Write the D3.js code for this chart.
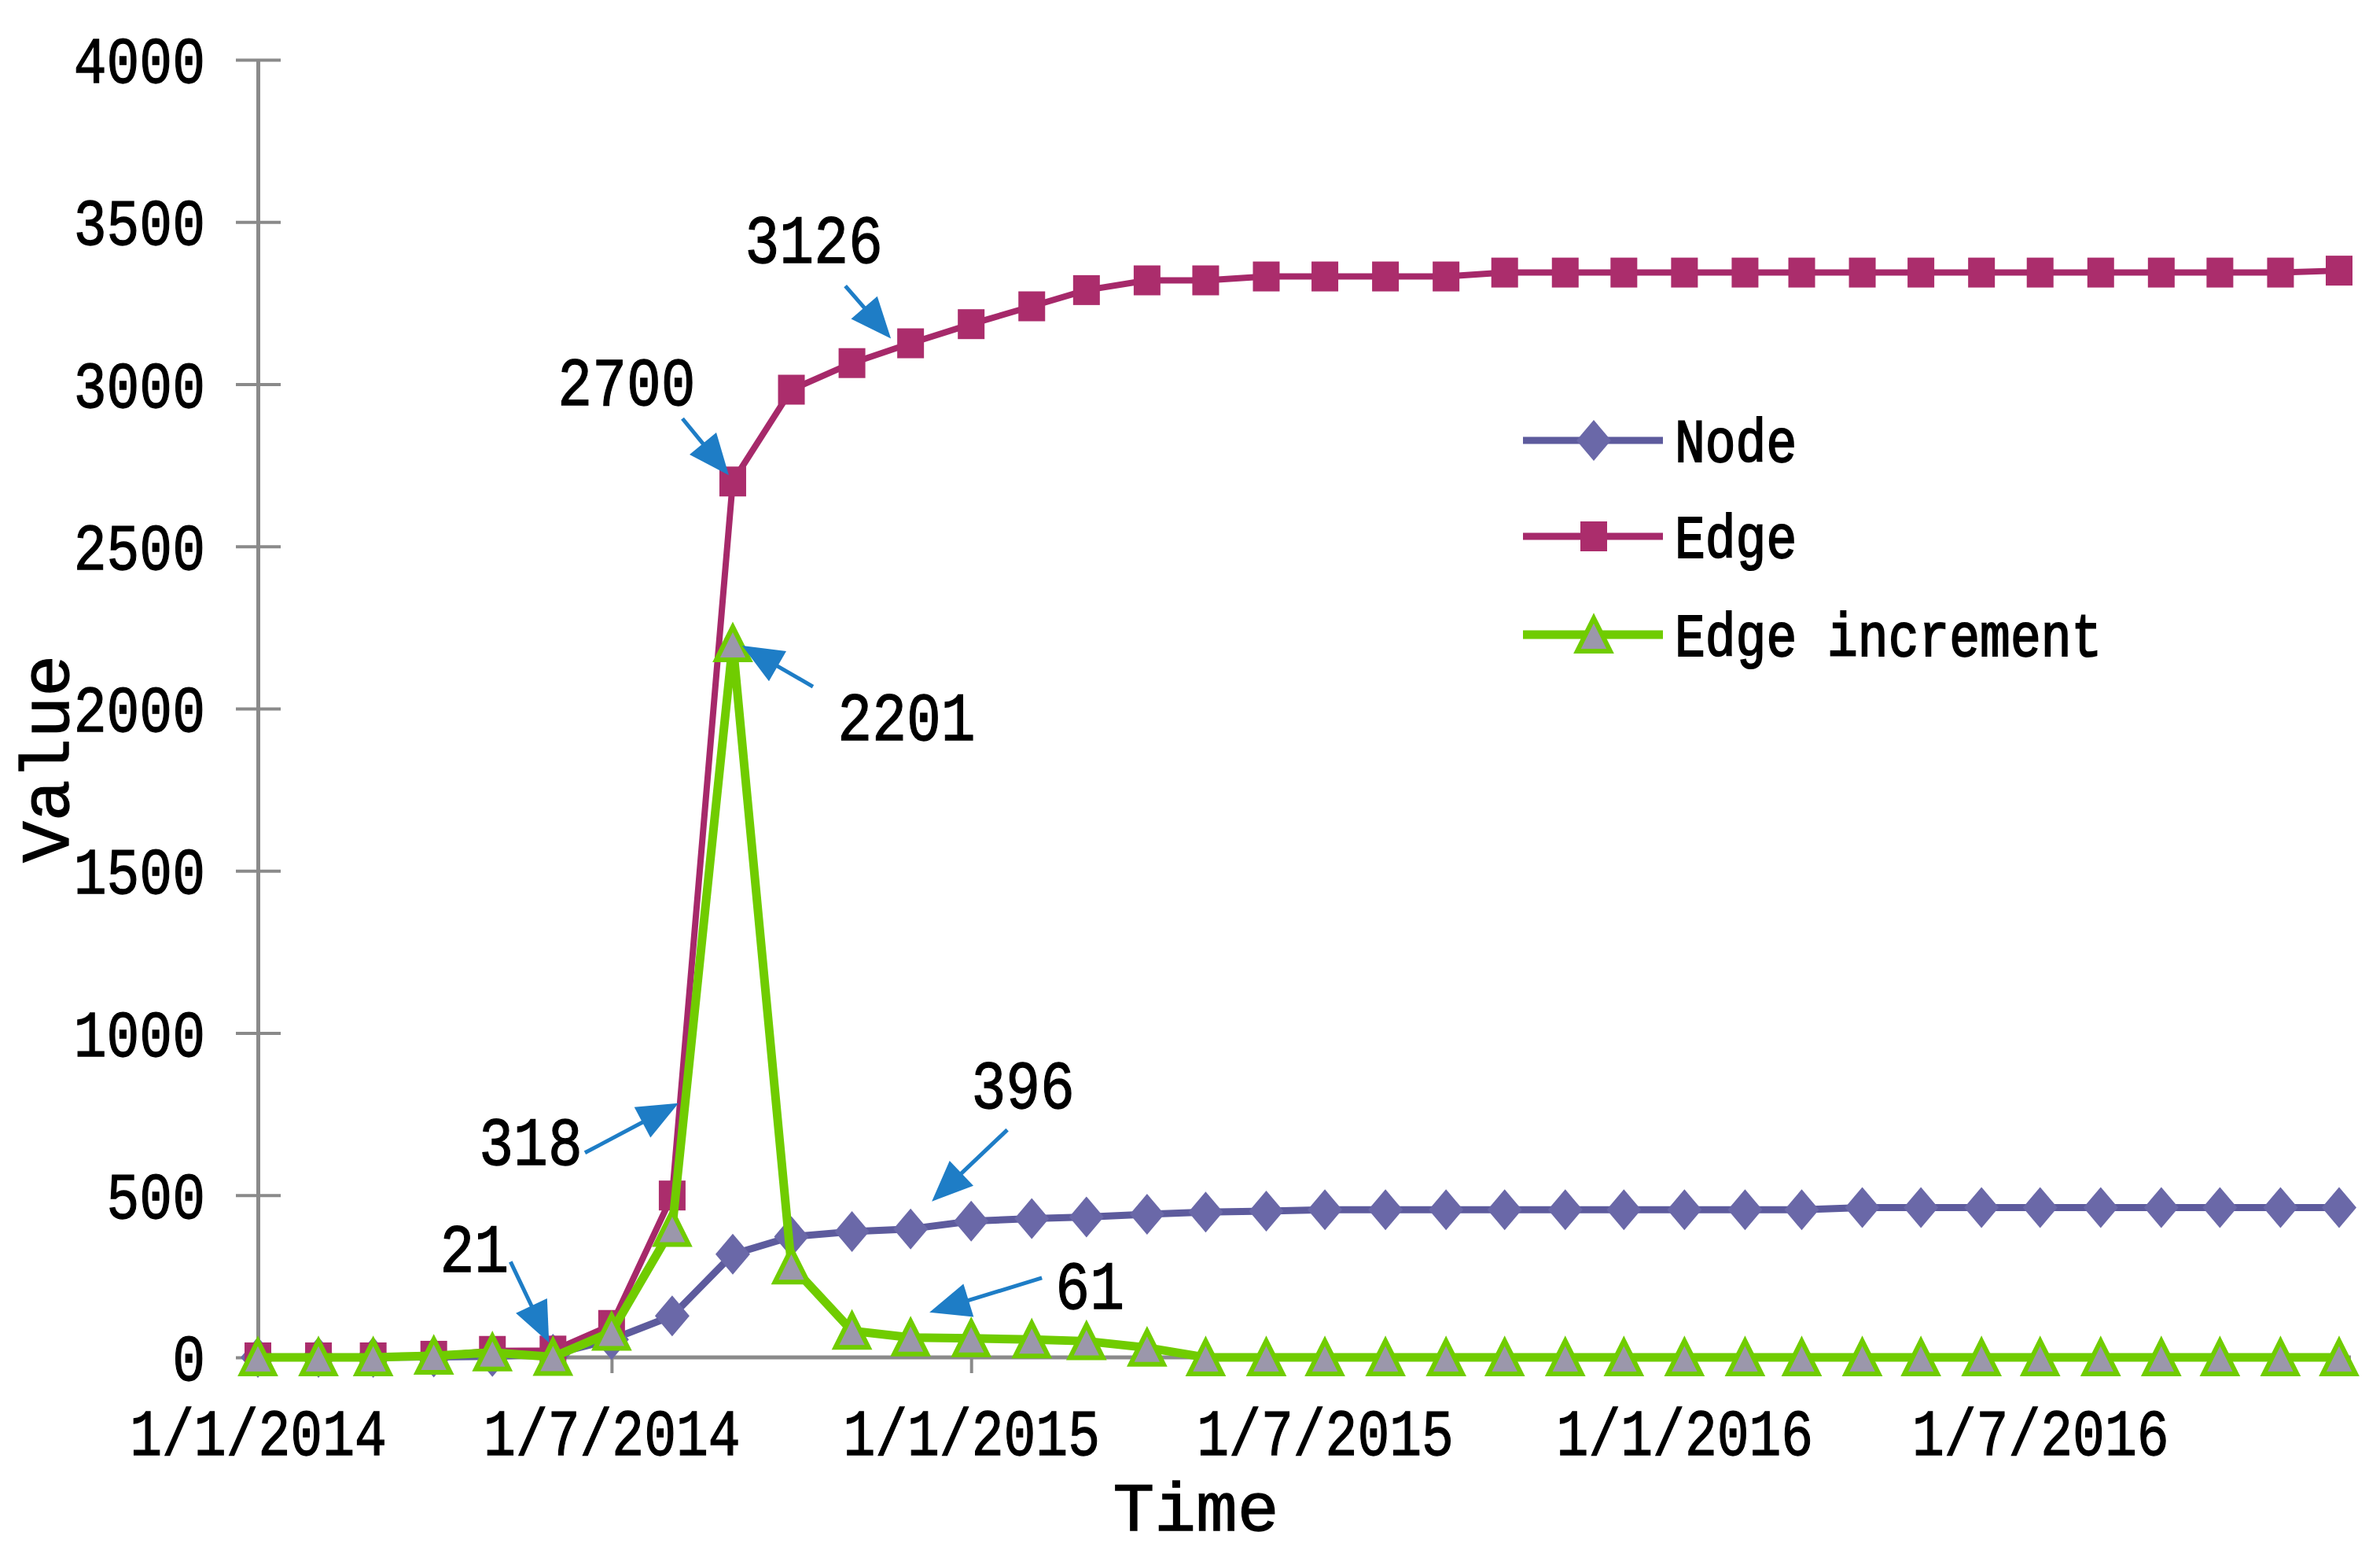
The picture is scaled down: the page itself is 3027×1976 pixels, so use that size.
<!DOCTYPE html>
<html><head><meta charset="utf-8">
<script src="https://cdn.jsdelivr.net/npm/d3@7"></script>
<style>
body{margin:0;background:#fff}
text{font-family:"Liberation Mono","DejaVu Sans Mono",monospace;fill:#000;stroke:#000;stroke-width:1.3px}
</style>
</head><body>
<svg id="chart" width="3027" height="1976"></svg>
<script>
// ---------------- data ----------------
const months = ["2014-01-01","2014-02-01","2014-03-01","2014-04-01","2014-05-01","2014-06-01",
  "2014-07-01","2014-08-01","2014-09-01","2014-10-01","2014-11-01","2014-12-01",
  "2015-01-01","2015-02-01","2015-03-01","2015-04-01","2015-05-01","2015-06-01",
  "2015-07-01","2015-08-01","2015-09-01","2015-10-01","2015-11-01","2015-12-01",
  "2016-01-01","2016-02-01","2016-03-01","2016-04-01","2016-05-01","2016-06-01",
  "2016-07-01","2016-08-01","2016-09-01","2016-10-01","2016-11-01","2016-12-01"];
const nodeValues = [0,0,0,1,3,10,55,128,318,372,388,396,420,428,433,441,448,451,
  455,455,455,455,455,455,455,455,455,462,462,462,462,462,462,462,462,462];
const edgeValues = [0,0,0,5,20,21,100,499,2700,2983,3065,3126,3185,3240,3290,3320,3320,3332,
  3332,3332,3332,3344,3344,3344,3344,3344,3344,3344,3344,3344,3344,3344,3344,3344,3344,3350];
const incrementValues = [0,0,0,5,15,1,79,399,2201,283,82,61,59,55,50,30,0,0,
  0,0,0,0,0,0,0,0,0,0,0,0,0,0,0,0,0,0];
const seriesNames = ["Node","Edge","Edge increment"];
const yTickValues = [0,500,1000,1500,2000,2500,3000,3500,4000];
const xTickDates = ["2014-01-01","2014-07-01","2015-01-01","2015-07-01","2016-01-01","2016-07-01"];
const xTickLabels = ["1/1/2014","1/7/2014","1/1/2015","1/7/2015","1/1/2016","1/7/2016"];
const annotationLabels = ["3126","2700","2201","318","21","396","61"];
const annotationSeries = ["edge","edge","increment","node","edge","node","increment"];
const annotationIndex = [11,8,8,8,5,11,11];

// ---------------- layout ----------------
const parse = d3.timeParse("%Y-%m-%d");
const dates = months.map(parse);
const svg = d3.select("#chart");
const x = d3.scaleTime().domain([dates[0], dates[dates.length-1]]).range([328, 2975]);
const y = d3.scaleLinear().domain([0, 4000]).range([1726, 76]);
const AXIS = "#8a8a8a";
const COL = {
  node: {line:"#5d5b9d", mark:"#6a68a8"},
  edge: {line:"#a6296a", mark:"#ab2d6c"},
  inc:  {line:"#70cc00", fill:"#9b97ab"}
};
const seriesData = {node: nodeValues, edge: edgeValues, increment: incrementValues};

// annotation geometry (pixel offsets from the annotated point)
const annLayout = [
  {tip:[-25,-6],  tail:[-83,-73],  text:[-123,-103]},
  {tip:[-5,-8],   tail:[-64,-80],  text:[-135,-97]},
  {tip:[12,3],    tail:[102,55],   text:[221,123]},
  {tip:[-69,-192],tail:[-188,-129],text:[-257,-114]},
  {tip:[-5,-10],  tail:[-54,-113], text:[-100,-100]},
  {tip:[27,-35],  tail:[123,-126], text:[143,-154]},
  {tip:[24,-32],  tail:[167,-76],  text:[228,-37]}
];

// ---------------- y axis ----------------
const yAxis = svg.append("g").attr("transform","translate(328,0)")
  .call(d3.axisLeft(y).tickValues(yTickValues).tickSize(28).tickSizeOuter(0).tickFormat(d3.format("d")));
yAxis.select(".domain").attr("stroke",AXIS).attr("stroke-width",5);
yAxis.selectAll(".tick line").attr("stroke",AXIS).attr("stroke-width",4).attr("x1",29);
yAxis.selectAll(".tick text").attr("x",0).attr("dy","0.34em")
  .attr("transform","translate(-67,0) scale(0.83,1)")
  .style("font-size","84px").style("font-family",'"Liberation Mono",monospace');

// ---------------- x axis ----------------
const xTicksParsed = xTickDates.map(parse);
const xAxis = svg.append("g").attr("transform",`translate(0,${y(0)})`)
  .call(d3.axisBottom(x).tickValues(xTicksParsed).tickSize(20).tickSizeOuter(0)
    .tickPadding(44).tickFormat((d,i)=>xTickLabels[i]));
xAxis.select(".domain").remove();
xAxis.append("line").attr("x1",x.range()[0]).attr("x2",x.range()[1]+15)
  .attr("y1",0).attr("y2",0).attr("stroke",AXIS).attr("stroke-width",5);
xAxis.selectAll(".tick line").attr("stroke",AXIS).attr("stroke-width",4)
  .filter((d,i)=>i===0).remove();
xAxis.selectAll(".tick text").attr("transform","scale(0.81,1)")
  .style("font-size","84px").style("font-family",'"Liberation Mono",monospace');

// axis titles
svg.append("text").attr("transform","translate(87,965) rotate(-90)")
  .attr("text-anchor","middle").style("font-size","88px").text("Value");
svg.append("text").attr("x",1521).attr("y",1946)
  .attr("text-anchor","middle").style("font-size","88px").text("Time");

// ---------------- series ----------------
const line = d3.line().x((d,i)=>x(dates[i])).y(d=>y(d));
const diamond = "M0,-26L22,0L0,26L-22,0Z";
const triangle = "M0,-21L21,21L-21,21Z";

// Node
svg.append("path").datum(nodeValues).attr("d",line).attr("fill","none")
  .attr("stroke",COL.node.line).attr("stroke-width",9).attr("stroke-linejoin","round");
svg.append("g").selectAll("path").data(nodeValues).join("path")
  .attr("transform",(d,i)=>`translate(${x(dates[i])},${y(d)})`)
  .attr("d",diamond).attr("fill",COL.node.mark);

// Edge
svg.append("path").datum(edgeValues).attr("d",line).attr("fill","none")
  .attr("stroke",COL.edge.line).attr("stroke-width",8).attr("stroke-linejoin","round");
svg.append("g").selectAll("rect").data(edgeValues).join("rect")
  .attr("x",(d,i)=>x(dates[i])-17).attr("y",d=>y(d)-19)
  .attr("width",34).attr("height",38).attr("fill",COL.edge.mark);

// Edge increment
svg.append("path").datum(incrementValues).attr("d",line).attr("fill","none")
  .attr("stroke",COL.inc.line).attr("stroke-width",11).attr("stroke-linejoin","round");
svg.append("g").selectAll("path").data(incrementValues).join("path")
  .attr("transform",(d,i)=>`translate(${x(dates[i])},${y(d)})`)
  .attr("d",triangle).attr("fill",COL.inc.fill).attr("stroke",COL.inc.line)
  .attr("stroke-width",6).attr("stroke-linejoin","miter");

// ---------------- legend ----------------
const legend = svg.append("g");
const legY = [560,682,807];
seriesNames.forEach((name,i)=>{
  const g = legend.append("g").attr("transform",`translate(0,${legY[i]})`);
  const col = i===0?COL.node.line:(i===1?COL.edge.line:COL.inc.line);
  g.append("line").attr("x1",1937).attr("x2",2115).attr("y1",0).attr("y2",0)
    .attr("stroke",col).attr("stroke-width",i===2?11:9);
  if(i===0) g.append("path").attr("transform","translate(2027,0)").attr("d",diamond).attr("fill",COL.node.mark);
  if(i===1) g.append("rect").attr("x",2010).attr("y",-19).attr("width",34).attr("height",38).attr("fill",COL.edge.mark);
  if(i===2) g.append("path").attr("transform","translate(2027,0)").attr("d",triangle)
    .attr("fill",COL.inc.fill).attr("stroke",COL.inc.line).attr("stroke-width",6);
  g.append("text").attr("transform","translate(2130,27) scale(0.84,1)")
    .style("font-size","77px").style("stroke-width","2px").text(name);
});

// ---------------- annotations ----------------
const ARROW = "#1e7dc6";
const ann = svg.append("g");
annotationLabels.forEach((lab,k)=>{
  const vals = seriesData[annotationSeries[k]];
  const idx = annotationIndex[k];
  const px = x(dates[idx]), py = y(vals[idx]);
  const L = annLayout[k];
  const tip = [px+L.tip[0], py+L.tip[1]];
  const tail = [px+L.tail[0], py+L.tail[1]];
  const dx = tip[0]-tail[0], dy = tip[1]-tail[1];
  const len = Math.hypot(dx,dy), ux = dx/len, uy = dy/len;
  const hl = 52, hw = 22;
  const base = [tip[0]-ux*hl, tip[1]-uy*hl];
  ann.append("line").attr("x1",tail[0]).attr("y1",tail[1])
    .attr("x2",base[0]+ux*4).attr("y2",base[1]+uy*4)
    .attr("stroke",ARROW).attr("stroke-width",5);
  ann.append("path").attr("d",`M${tip[0]},${tip[1]}L${base[0]-uy*hw},${base[1]+ux*hw}L${base[0]+uy*hw},${base[1]-ux*hw}Z`)
    .attr("fill",ARROW);
  ann.append("text").attr("transform",`translate(${px+L.text[0]},${py+L.text[1]}) scale(0.83,1)`)
    .attr("text-anchor","middle").style("font-size","88px").text(lab);
});
</script>
</body></html>
